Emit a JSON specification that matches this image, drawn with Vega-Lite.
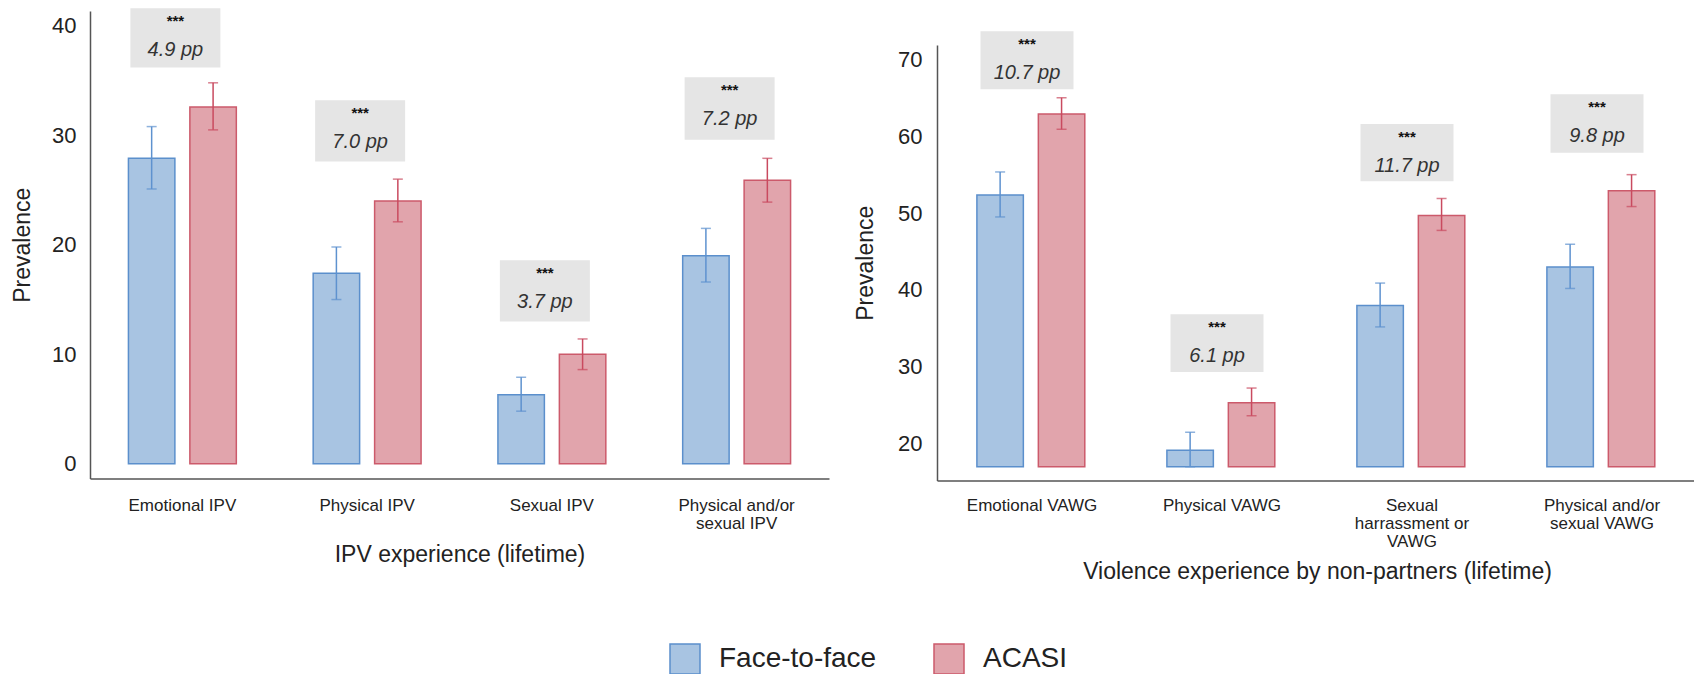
{
  "$schema": "https://vega.github.io/schema/vega-lite/v6.json",
  "padding": {"left": 11, "top": 5, "right": 0, "bottom": 0},
  "background": "#ffffff",
  "datasets": {
    "ipv": [
      {"cat": "Emotional IPV", "mode": "Face-to-face", "value": 27.9, "lo": 25.1, "hi": 30.8},
      {"cat": "Emotional IPV", "mode": "ACASI", "value": 32.6, "lo": 30.5, "hi": 34.8},
      {"cat": "Physical IPV", "mode": "Face-to-face", "value": 17.4, "lo": 15.0, "hi": 19.8},
      {"cat": "Physical IPV", "mode": "ACASI", "value": 24.0, "lo": 22.1, "hi": 26.0},
      {"cat": "Sexual IPV", "mode": "Face-to-face", "value": 6.3, "lo": 4.8, "hi": 7.9},
      {"cat": "Sexual IPV", "mode": "ACASI", "value": 10.0, "lo": 8.6, "hi": 11.4},
      {"cat": "Physical and/or\nsexual IPV", "mode": "Face-to-face", "value": 19.0, "lo": 16.6, "hi": 21.5},
      {"cat": "Physical and/or\nsexual IPV", "mode": "ACASI", "value": 25.9, "lo": 23.9, "hi": 27.9}
    ],
    "ipvAnn": [
      {"cat": "Emotional IPV", "top": 41.6, "bottom": 36.2, "sig": "***", "diff": "4.9 pp"},
      {"cat": "Physical IPV", "top": 33.2, "bottom": 27.6, "sig": "***", "diff": "7.0 pp"},
      {"cat": "Sexual IPV", "top": 18.6, "bottom": 13.0, "sig": "***", "diff": "3.7 pp"},
      {"cat": "Physical and/or\nsexual IPV", "top": 35.3, "bottom": 29.6, "sig": "***", "diff": "7.2 pp"}
    ],
    "vawg": [
      {"cat": "Emotional VAWG", "mode": "Face-to-face", "value": 52.35, "lo": 49.5, "hi": 55.35},
      {"cat": "Emotional VAWG", "mode": "ACASI", "value": 62.9, "lo": 60.9, "hi": 65.0},
      {"cat": "Physical VAWG", "mode": "Face-to-face", "value": 19.15, "lo": 17.0, "hi": 21.5},
      {"cat": "Physical VAWG", "mode": "ACASI", "value": 25.35, "lo": 23.65, "hi": 27.25},
      {"cat": "Sexual\nharrassment or\nVAWG", "mode": "Face-to-face", "value": 38.0, "lo": 35.2, "hi": 40.9},
      {"cat": "Sexual\nharrassment or\nVAWG", "mode": "ACASI", "value": 49.7, "lo": 47.75, "hi": 51.9},
      {"cat": "Physical and/or\nsexual VAWG", "mode": "Face-to-face", "value": 43.0, "lo": 40.2, "hi": 45.95},
      {"cat": "Physical and/or\nsexual VAWG", "mode": "ACASI", "value": 52.9, "lo": 50.85, "hi": 55.0}
    ],
    "vawgAnn": [
      {"cat": "Emotional VAWG", "top": 73.65, "bottom": 66.1, "sig": "***", "diff": "10.7 pp"},
      {"cat": "Physical VAWG", "top": 36.85, "bottom": 29.35, "sig": "***", "diff": "6.1 pp"},
      {"cat": "Sexual\nharrassment or\nVAWG", "top": 61.6, "bottom": 54.15, "sig": "***", "diff": "11.7 pp"},
      {"cat": "Physical and/or\nsexual VAWG", "top": 65.45, "bottom": 57.85, "sig": "***", "diff": "9.8 pp"}
    ]
  },
  "hconcat": [
    {
      "width": 739,
      "height": 467.5,
      "encoding": {
        "x": {
          "field": "cat", "type": "nominal",
          "scale": {"domain": ["Emotional IPV", "Physical IPV", "Sexual IPV", "Physical and/or\nsexual IPV"], "paddingInner": 0.416, "paddingOuter": 0.208},
          "axis": {"title": "IPV experience (lifetime)", "labelAngle": 0, "labelFontSize": 17, "labelPadding": 19, "labelLineHeight": 18, "labelExpr": "split(datum.label, '\\n')", "titlePadding": 12, "labelLimit": 0}
        }
      },
      "layer": [
        {
          "data": {"name": "ipvAnn"},
          "mark": {"type": "bar", "width": 90, "xOffset": -7, "fill": "#e5e5e5"},
          "encoding": {
            "y": {"field": "top", "type": "quantitative", "title": "Prevalence"},
            "y2": {"field": "bottom"}
          }
        },
        {
          "data": {"name": "ipvAnn"},
          "mark": {"type": "text", "xOffset": -7, "dy": 13, "fontSize": 15, "fontWeight": "bold", "color": "#111", "baseline": "middle"},
          "encoding": {
            "y": {"field": "top", "type": "quantitative", "title": "Prevalence"},
            "text": {"field": "sig"}
          }
        },
        {
          "data": {"name": "ipvAnn"},
          "mark": {"type": "text", "xOffset": -7, "dy": 42, "fontSize": 20, "fontStyle": "italic", "color": "#333", "baseline": "middle"},
          "encoding": {
            "y": {"field": "top", "type": "quantitative", "title": "Prevalence"},
            "text": {"field": "diff"}
          }
        },
        {
          "data": {"name": "ipv"},
          "mark": {"type": "bar", "strokeWidth": 1.5},
          "encoding": {
            "xOffset": {"field": "mode", "type": "nominal", "scale": {"domain": ["Face-to-face", "ACASI"], "paddingInner": 0.244, "paddingOuter": 0}},
            "y": {
              "field": "value", "type": "quantitative", "title": "Prevalence",
              "scale": {"domain": [-1.35, 41.36], "nice": false, "zero": false},
              "axis": {"title": "Prevalence", "values": [0, 10, 20, 30, 40], "labelPadding": 14, "titlePadding": 17}
            },
            "y2": {"datum": 0},
            "fill": {
              "field": "mode", "type": "nominal",
              "scale": {"domain": ["Face-to-face", "ACASI"], "range": ["#a8c4e2", "#e1a4ac"]},
              "legend": {"orient": "none", "legendX": 579, "legendY": 632, "direction": "horizontal", "title": null, "symbolType": "square", "symbolSize": 900, "symbolStrokeWidth": 1.5, "labelFontSize": 28, "labelOffset": 18, "columnPadding": 54, "labelColor": "#222", "padding": 0}
            },
            "stroke": {
              "field": "mode", "type": "nominal",
              "scale": {"domain": ["Face-to-face", "ACASI"], "range": ["#5b8fcc", "#cc5a6b"]},
              "legend": {"orient": "none", "legendX": 579, "legendY": 632, "direction": "horizontal", "title": null, "symbolType": "square", "symbolSize": 900, "symbolStrokeWidth": 1.5, "labelFontSize": 28, "labelOffset": 18, "columnPadding": 54, "labelColor": "#222", "padding": 0}
            }
          }
        },
        {
          "data": {"name": "ipv"},
          "mark": {"type": "rule", "strokeWidth": 1.5},
          "encoding": {
            "xOffset": {"field": "mode", "type": "nominal"},
            "y": {"field": "lo", "type": "quantitative", "title": "Prevalence"},
            "y2": {"field": "hi"},
            "color": {"field": "mode", "type": "nominal", "scale": {"domain": ["Face-to-face", "ACASI"], "range": ["#5e92cf", "#c94a5f"]}, "legend": null}
          }
        },
        {
          "data": {"name": "ipv"},
          "mark": {"type": "tick", "thickness": 1.5, "size": 10},
          "encoding": {
            "xOffset": {"field": "mode", "type": "nominal"},
            "y": {"field": "lo", "type": "quantitative", "title": "Prevalence"},
            "color": {"field": "mode", "type": "nominal", "legend": null}
          }
        },
        {
          "data": {"name": "ipv"},
          "mark": {"type": "tick", "thickness": 1.5, "size": 10},
          "encoding": {
            "xOffset": {"field": "mode", "type": "nominal"},
            "y": {"field": "hi", "type": "quantitative", "title": "Prevalence"},
            "color": {"field": "mode", "type": "nominal", "legend": null}
          }
        }
      ]
    },
    {
      "bounds": "flush",
      "spacing": 33,
      "vconcat": [
        {
          "width": 760,
          "height": 1,
          "data": {"values": [{}]},
          "mark": {"type": "text"},
          "encoding": {"text": {"value": ""}}
        },
        {
          "width": 760,
          "height": 435.4,
          "encoding": {
            "x": {
              "field": "cat", "type": "nominal",
              "scale": {"domain": ["Emotional VAWG", "Physical VAWG", "Sexual\nharrassment or\nVAWG", "Physical and/or\nsexual VAWG"], "paddingInner": 0.42, "paddingOuter": 0.21},
              "axis": {"title": "Violence experience by non-partners (lifetime)", "labelAngle": 0, "labelFontSize": 17, "labelPadding": 17, "labelLineHeight": 18, "labelExpr": "split(datum.label, '\\n')", "titlePadding": 11, "labelLimit": 0}
            }
          },
          "layer": [
            {
              "data": {"name": "vawgAnn"},
              "mark": {"type": "bar", "width": 93, "xOffset": -5, "fill": "#e5e5e5"},
              "encoding": {
                "y": {"field": "top", "type": "quantitative", "title": "Prevalence"},
                "y2": {"field": "bottom"}
              }
            },
            {
              "data": {"name": "vawgAnn"},
              "mark": {"type": "text", "xOffset": -5, "dy": 13, "fontSize": 15, "fontWeight": "bold", "color": "#111", "baseline": "middle"},
              "encoding": {
                "y": {"field": "top", "type": "quantitative", "title": "Prevalence"},
                "text": {"field": "sig"}
              }
            },
            {
              "data": {"name": "vawgAnn"},
              "mark": {"type": "text", "xOffset": -5, "dy": 42, "fontSize": 20, "fontStyle": "italic", "color": "#333", "baseline": "middle"},
              "encoding": {
                "y": {"field": "top", "type": "quantitative", "title": "Prevalence"},
                "text": {"field": "diff"}
              }
            },
            {
              "data": {"name": "vawg"},
              "mark": {"type": "bar", "strokeWidth": 1.5},
              "encoding": {
                "xOffset": {"field": "mode", "type": "nominal", "scale": {"domain": ["Face-to-face", "ACASI"], "paddingInner": 0.254, "paddingOuter": 0}},
                "y": {
                  "field": "value", "type": "quantitative", "title": "Prevalence",
                  "scale": {"domain": [15.24, 71.86], "nice": false, "zero": false},
                  "axis": {"title": "Prevalence", "values": [20, 30, 40, 50, 60, 70], "labelPadding": 15, "titlePadding": 20}
                },
                "y2": {"datum": 17},
                "fill": {
                  "field": "mode", "type": "nominal",
                  "legend": {"orient": "none", "legendX": 579, "legendY": 632, "direction": "horizontal", "title": null, "symbolType": "square", "symbolSize": 900, "symbolStrokeWidth": 1.5, "labelFontSize": 28, "labelOffset": 18, "columnPadding": 54, "labelColor": "#222", "padding": 0}
                },
                "stroke": {
                  "field": "mode", "type": "nominal",
                  "legend": {"orient": "none", "legendX": 579, "legendY": 632, "direction": "horizontal", "title": null, "symbolType": "square", "symbolSize": 900, "symbolStrokeWidth": 1.5, "labelFontSize": 28, "labelOffset": 18, "columnPadding": 54, "labelColor": "#222", "padding": 0}
                }
              }
            },
            {
              "data": {"name": "vawg"},
              "mark": {"type": "rule", "strokeWidth": 1.5},
              "encoding": {
                "xOffset": {"field": "mode", "type": "nominal"},
                "y": {"field": "lo", "type": "quantitative", "title": "Prevalence"},
                "y2": {"field": "hi"},
                "color": {"field": "mode", "type": "nominal", "legend": null}
              }
            },
            {
              "data": {"name": "vawg"},
              "mark": {"type": "tick", "thickness": 1.5, "size": 10},
              "encoding": {
                "xOffset": {"field": "mode", "type": "nominal"},
                "y": {"field": "lo", "type": "quantitative", "title": "Prevalence"},
                "color": {"field": "mode", "type": "nominal", "legend": null}
              }
            },
            {
              "data": {"name": "vawg"},
              "mark": {"type": "tick", "thickness": 1.5, "size": 10},
              "encoding": {
                "xOffset": {"field": "mode", "type": "nominal"},
                "y": {"field": "hi", "type": "quantitative", "title": "Prevalence"},
                "color": {"field": "mode", "type": "nominal", "legend": null}
              }
            }
          ]
        }
      ]
    }
  ],
  "spacing": 25,
  "config": {
    "font": "Liberation Sans",
    "view": {"stroke": null},
    "axis": {
      "grid": false, "ticks": false, "tickSize": 0,
      "domainColor": "#555555", "domainWidth": 1.5,
      "labelColor": "#222222", "titleColor": "#222222",
      "labelFontSize": 22, "titleFontSize": 23, "titleFontWeight": "normal"
    }
  }
}
